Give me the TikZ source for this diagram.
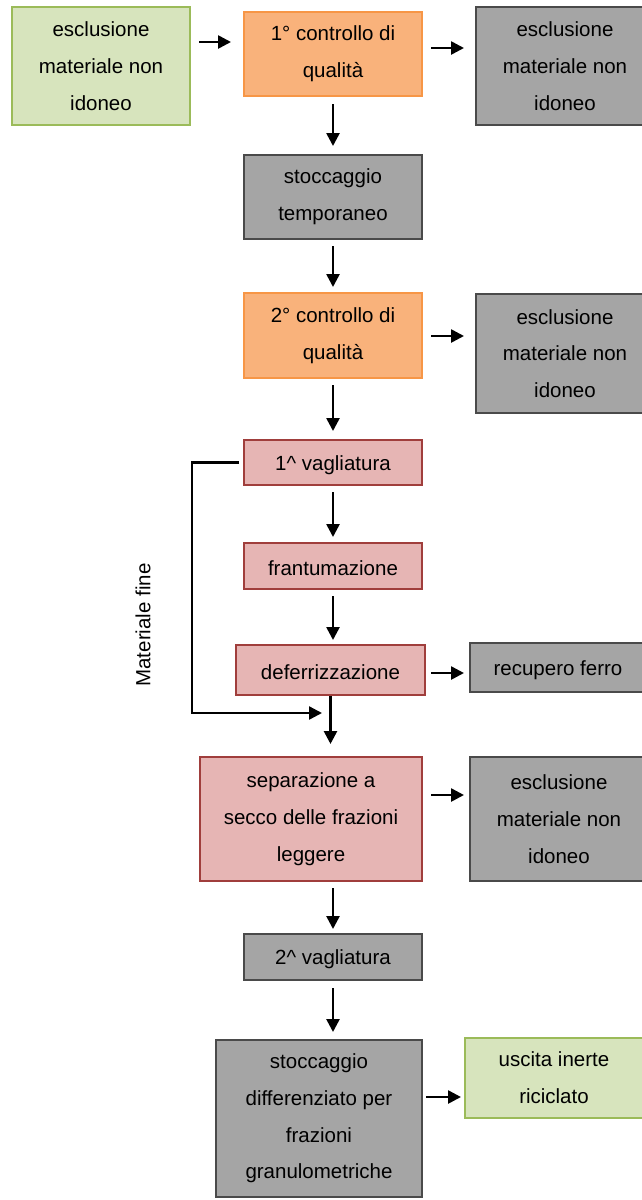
\documentclass[tikz,border=0pt]{standalone}
\usepackage{fontspec}
\setmainfont{Liberation Sans}
\usetikzlibrary{arrows.meta}
\definecolor{gfill}{HTML}{D7E4BD}
\definecolor{gdraw}{HTML}{9BBB59}
\definecolor{ofill}{HTML}{F9B27B}
\definecolor{odraw}{HTML}{F79646}
\definecolor{kfill}{HTML}{A5A5A5}
\definecolor{kdraw}{HTML}{4A4A4A}
\definecolor{pfill}{HTML}{E6B5B4}
\definecolor{pdraw}{HTML}{A03E3C}
\tikzset{
  box/.style={rectangle, line width=2pt, align=center, inner sep=0pt,
    font=\fontsize{20.5}{36.7}\selectfont,
    execute at begin node={\rule{0pt}{19.5pt}}},
  greenbox/.style={box, fill=gfill, draw=gdraw},
  orangebox/.style={box, fill=ofill, draw=odraw},
  graybox/.style={box, fill=kfill, draw=kdraw},
  pinkbox/.style={box, fill=pfill, draw=pdraw},
  arr/.style={line width=2.6pt, -{Triangle[length=13pt,width=13pt]}},
}
\begin{document}
\begin{tikzpicture}[x=1pt,y=-1pt]
\useasboundingbox (0,0) rectangle (642,1200);
\node[greenbox, minimum width=178, minimum height=118] (g1) at (101,66) {esclusione\\materiale non\\idoneo};
\node[orangebox, minimum width=178, minimum height=84] (o1) at (333,54) {1° controllo di\\qualità};
\node[graybox, minimum width=178, minimum height=118] (r1) at (565,66) {esclusione\\materiale non\\idoneo};
\node[graybox, minimum width=178, minimum height=84] (st) at (333,197) {stoccaggio\\temporaneo};
\node[orangebox, minimum width=178, minimum height=85] (o2) at (333,335.5) {2° controllo di\\qualità};
\node[graybox, minimum width=178, minimum height=119] (r2) at (565,353.5) {esclusione\\materiale non\\idoneo};
\node[pinkbox, minimum width=178, minimum height=45] (v1) at (333,462.5) {1\^{} vagliatura};
\node[pinkbox, minimum width=178, minimum height=46] (fr) at (333,566) {frantumazione};
\node[pinkbox, minimum width=189, minimum height=50] (de) at (330.5,670) {deferrizzazione};
\node[graybox, minimum width=176, minimum height=49] (rf) at (558,667.5) {recupero ferro};
\node[pinkbox, minimum width=222, minimum height=124] (se) at (311,819) {separazione a\\secco delle frazioni\\leggere};
\node[graybox, minimum width=178, minimum height=124] (r3) at (559,819) {esclusione\\materiale non\\idoneo};
\node[graybox, minimum width=178, minimum height=46] (v2) at (333,957) {2\^{} vagliatura};
\node[graybox, minimum width=206, minimum height=157] (sd) at (319,1118.5) {stoccaggio\\differenziato per\\frazioni\\granulometriche};
\node[greenbox, minimum width=178, minimum height=80] (us) at (554,1078) {uscita inerte\\riciclato};
\node[font=\fontsize{20.5}{24}\selectfont, rotate=90] (mf) at (143,625) {Materiale fine};
\coordinate (fb) at (192,713);
% horizontal arrows
\draw[arr, shorten <=8pt, shorten >=12pt] (g1.east |- 0,42) -- (o1.west |- 0,42);
\draw[arr, shorten <=8pt, shorten >=11pt] (o1.east |- 0,48) -- (r1.west |- 0,48);
\draw[arr, shorten <=8pt, shorten >=11pt] (o2.east |- 0,336) -- (r2.west |- 0,336);
\draw[arr, shorten <=5pt, shorten >=5pt] (de.east |- 0,673) -- (rf.west |- 0,673);
\draw[arr, shorten <=8pt, shorten >=5pt] (se.east |- 0,795) -- (r3.west |- 0,795);
\draw[arr, shorten <=3pt, shorten >=3pt] (sd.east |- 0,1097) -- (us.west |- 0,1097);
% vertical arrows
\draw[arr, shorten <=7pt, shorten >=8pt] (o1.south) -- (st.north);
\draw[arr, shorten <=6pt, shorten >=5pt] (st.south) -- (o2.north);
\draw[arr, shorten <=6pt, shorten >=8pt] (o2.south) -- (v1.north);
\draw[arr, shorten <=6pt, shorten >=5pt] (v1.south) -- (fr.north);
\draw[arr, shorten <=6pt, shorten >=4pt] (fr.south) -- (fr.south |- de.north);
\draw[arr, shorten >=12pt] (de.south) -- (de.south |- se.north);
\draw[arr, shorten <=6pt, shorten >=4pt] (se.south -| v2.north) -- (v2.north);
\draw[arr, shorten <=7pt, shorten >=7pt] (v2.south) -- (v2.south |- sd.north);
% feedback line
\draw[arr, line width=2.4pt, shorten <=4pt] (v1.west) -- (v1.west -| fb) -- (fb) -- (322,713);
\end{tikzpicture}
\end{document}
